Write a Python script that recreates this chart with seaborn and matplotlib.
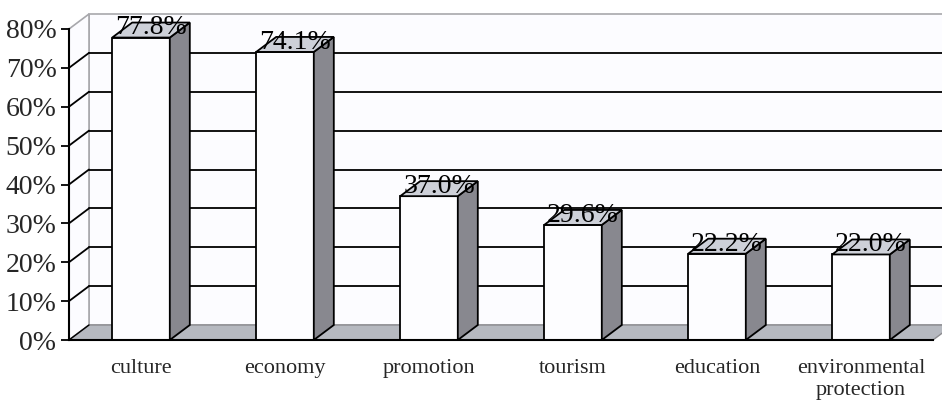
import numpy as np
import pandas as pd
import matplotlib
matplotlib.use("Agg")
import matplotlib.pyplot as plt
import seaborn as sns
from matplotlib.patches import Polygon

categories = ["culture", "economy", "promotion", "tourism", "education",
              "environmental\nprotection"]
shares = [0.778, 0.741, 0.370, 0.296, 0.222, 0.220]
labels = ["77.8%", "74.1%", "37.0%", "29.6%", "22.2%", "22.0%"]
yticks = [0.0, 0.1, 0.2, 0.3, 0.4, 0.5, 0.6, 0.7, 0.8]
ytick_labels = ["0%", "10%", "20%", "30%", "40%", "50%", "60%", "70%", "80%"]

df = pd.DataFrame({"category": categories, "share": shares})

sns.set_theme(style="white")
plt.rcParams["font.family"] = ["Liberation Serif", "DejaVu Serif"]

W, H = 942, 403
fig = plt.figure(figsize=(W / 100, H / 100), dpi=100)
# front frame of the 3d box in pixels
left, right, bottom, top = 69, 933, 340, 29
ax = fig.add_axes([left / W, (H - bottom) / H, (right - left) / W, (bottom - top) / H])

ax = sns.barplot(data=df, x="category", y="share", color="#FDFDFF", width=0.4,
                 edgecolor="black", linewidth=1.3, saturation=1, ax=ax, zorder=5)
ax.set_xlim(-0.5, 5.5)
ax.set_ylim(0, 0.8)

# depth of the 3d effect in data units (20px right, 15px up)
dx = 20 / ((right - left) / 6)
dy = 15 / ((bottom - top) / 0.8)

wall = "#FCFCFF"
edge = "#A8A8AC"
# back wall, left wall, floor
ax.add_patch(Polygon([(-0.5 + dx, dy), (5.5 + dx, dy), (5.5 + dx, 0.8 + dy), (-0.5 + dx, 0.8 + dy)],
                     closed=True, facecolor=wall, edgecolor=edge, lw=1.2, zorder=0, clip_on=False))
ax.add_patch(Polygon([(-0.5, 0), (-0.5 + dx, dy), (-0.5 + dx, 0.8 + dy), (-0.5, 0.8)],
                     closed=True, facecolor=wall, edgecolor=edge, lw=1.2, zorder=0, clip_on=False))
ax.add_patch(Polygon([(-0.5, 0), (5.5, 0), (5.5 + dx, dy), (-0.5 + dx, dy)],
                     closed=True, facecolor="#B6B9C0", edgecolor="#8C8C90", lw=1.0, zorder=1, clip_on=False))

# gridlines on the walls
for v in yticks[1:-1]:
    ax.plot([-0.5 + dx, 5.5 + dx], [v + dy, v + dy], color="black", lw=1.3, zorder=2, clip_on=False)
    ax.plot([-0.5, -0.5 + dx], [v, v + dy], color="black", lw=1.3, zorder=2, clip_on=False)
ax.plot([-0.5, -0.5 + dx], [0, dy], color="black", lw=1.0, zorder=2, clip_on=False)

# side and top faces of each bar
for p, lab in zip(ax.patches, labels):
    x0 = p.get_x()
    x1 = x0 + p.get_width()
    h = p.get_height()
    ax.add_patch(Polygon([(x1, 0), (x1 + dx, dy), (x1 + dx, h + dy), (x1, h)], closed=True,
                         facecolor="#88888F", edgecolor="black", lw=1.3, zorder=5, clip_on=False))
    ax.add_patch(Polygon([(x0, h), (x1, h), (x1 + dx, h + dy), (x0 + dx, h + dy)], closed=True,
                         facecolor="#CDD0D8", edgecolor="black", lw=1.3, zorder=5, clip_on=False))
    ax.text((x0 + x1) / 2 + dx / 2, h + 0.008, lab, ha="center", va="baseline",
            fontsize=20, color="black", zorder=6, clip_on=False)

for s in ["top", "right"]:
    ax.spines[s].set_visible(False)
for s in ["left", "bottom"]:
    ax.spines[s].set_color("black")
    ax.spines[s].set_linewidth(1.5)
    ax.spines[s].set_zorder(7)

ax.set_yticks(yticks)
ax.set_yticklabels(ytick_labels, fontsize=20)
ax.set_xticks(np.arange(6))
ax.set_xticklabels(categories, fontsize=16, linespacing=1.2)
ax.set_xticks(np.arange(-0.5, 6.0, 1.0), minor=True)
ax.tick_params(axis="x", which="major", length=0, pad=14)
ax.tick_params(axis="x", which="minor", length=6, width=1.3, color="black", direction="out")
ax.tick_params(axis="y", length=6, width=1.3, color="black", direction="out", left=True, pad=3)
ax.set_xlabel("")
ax.set_ylabel("")
ax.set_facecolor("none")

fig.savefig("out.png", dpi=100, facecolor="white")
